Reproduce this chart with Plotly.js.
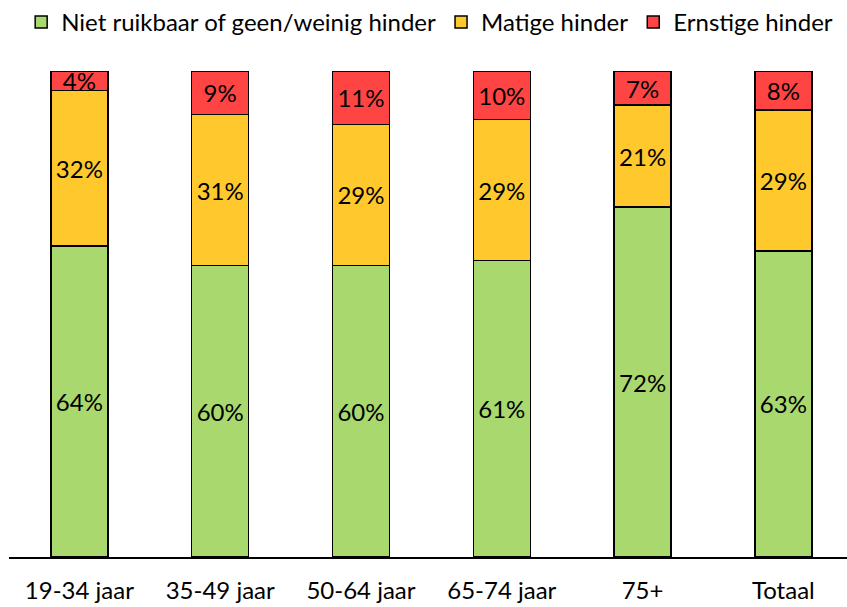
<!DOCTYPE html>
<html>
<head>
<meta charset="utf-8">
<script src="https://cdn.plot.ly/plotly-3.0.1.min.js"></script>
<style>html,body{margin:0;padding:0;background:#fff;}#chart{width:847px;height:607px;}</style>
</head>
<body>
<div id="chart"></div>
<script>
const categories = ["19-34 jaar", "35-49 jaar", "50-64 jaar", "65-74 jaar", "75+", "Totaal"];
const seriesNames = ["Niet ruikbaar of geen/weinig hinder", "Matige hinder", "Ernstige hinder"];
const geenHinder = [64, 60, 60, 61, 72, 63];
const matigeHinder = [32, 31, 29, 29, 21, 29];
const ernstigeHinder = [4, 9, 11, 10, 7, 8];
const colors = ["#A8D86E", "#FFC92E", "#FF4444"];

const FONT = "Lato, 'Open Sans', sans-serif";
const FS = 24;

function mk(name, vals, color) {
  return {
    type: 'bar', name: name, x: categories, y: vals,
    text: vals.map(v => v + '%'), textposition: 'inside', insidetextanchor: 'middle',
    textfont: {family: FONT, size: FS, color: '#000'},
    constraintext: 'none', cliponaxis: false,
    marker: {color: color, line: {color: '#000', width: 1.5}},
    hoverinfo: 'skip'
  };
}

const data = [
  mk(seriesNames[0], geenHinder, colors[0]),
  mk(seriesNames[1], matigeHinder, colors[1]),
  mk(seriesNames[2], ernstigeHinder, colors[2])
];

const layout = {
  width: 847, height: 607,
  margin: {l: 9, r: 0, t: 71, b: 50, pad: 0},
  paper_bgcolor: '#fff', plot_bgcolor: '#fff',
  barmode: 'stack', bargap: 0.595,
  uniformtext: {mode: 'show', minsize: FS},
  font: {family: FONT, size: FS, color: '#000'},
  showlegend: true,
  legend: {orientation: 'h', xref: 'container', yref: 'container', x: 0.025, y: 1, xanchor: 'left', yanchor: 'top',
           font: {family: FONT, size: 24, color: '#000'}, traceorder: 'normal', bgcolor: 'rgba(0,0,0,0)'},
  xaxis: {type: 'category', range: [-0.5, 5.452], showgrid: false, zeroline: false, showline: true,
          linecolor: '#000', linewidth: 2, ticks: '', ticklabelstandoff: 11,
          tickfont: {family: FONT, size: FS, color: '#000'}, fixedrange: true},
  yaxis: {range: [0, 100], visible: false, showgrid: false, zeroline: false, fixedrange: true}
};

Plotly.newPlot('chart', data, layout, {displayModeBar: false, staticPlot: true});
</script>
</body>
</html>
